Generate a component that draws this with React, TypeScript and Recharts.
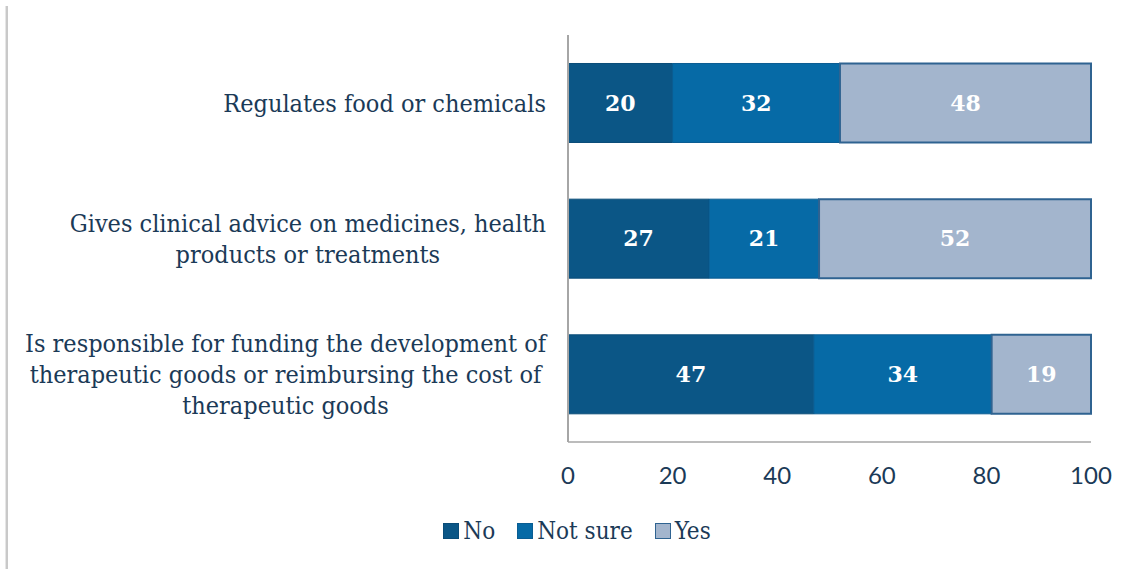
import React from 'react';
import { BarChart, Bar, XAxis, YAxis, Legend, LabelList } from 'recharts';

const categories = [
  'Regulates food or chemicals',
  'Gives clinical advice on medicines, health products or treatments',
  'Is responsible for funding the development of therapeutic goods or reimbursing the cost of therapeutic goods',
];
// how each category label wraps in the original
const categoryLines = [
  ['Regulates food or chemicals'],
  ['Gives clinical advice on medicines, health', 'products or treatments'],
  [
    'Is responsible for funding the development of',
    'therapeutic goods or reimbursing the cost of',
    'therapeutic goods',
  ],
];
const noValues = [20, 27, 47];
const notSureValues = [32, 21, 34];
const yesValues = [48, 52, 19];
const xTicks = [0, 20, 40, 60, 80, 100];
const seriesNames = ['No', 'Not sure', 'Yes'];

const fills = ['#0B5686', '#066AA6', '#A3B5CD'];
const strokes = ['#0A4C78', '#0A5D92', '#2F6391'];
const TEXT = '#1B3A57';
const SERIF = '"DejaVu Serif Condensed", "DejaVu Serif", serif';
const LABEL_FS = 25;
const LEGEND_FS = 24;
const LINE_H = 31;
const LABEL_RIGHT = 546;

const data = categories.map((name, i) => ({
  name,
  no: noValues[i],
  notSure: notSureValues[i],
  yes: yesValues[i],
}));

let ctx: CanvasRenderingContext2D | null = null;
const measure = (s: string) => {
  if (!ctx) ctx = document.createElement('canvas').getContext('2d');
  if (!ctx) return s.length * LABEL_FS * 0.5;
  ctx.font = `condensed ${LABEL_FS}px ${SERIF}`;
  return ctx.measureText(s).width;
};

const CategoryTick = (props: any) => {
  const { y, payload } = props;
  const idx = categories.indexOf(payload.value);
  const lines = categoryLines[idx] || [payload.value];
  const maxW = Math.max(...lines.map(measure));
  const cx = LABEL_RIGHT - maxW / 2;
  const startY = y - ((lines.length - 1) * LINE_H) / 2;
  return (
    <text
      textAnchor="middle"
      fill={TEXT}
      fontFamily={SERIF}
      fontSize={LABEL_FS}
      style={{ fontStretch: 'condensed' }}
    >
      {lines.map((l, i) => (
        <tspan key={i} x={cx} y={startY + i * LINE_H} dy="0.35em">
          {l}
        </tspan>
      ))}
    </text>
  );
};

const renderLegend = () => (
  <div
    style={{
      display: 'flex',
      justifyContent: 'center',
      alignItems: 'center',
      height: 30,
      paddingLeft: 63,
      fontFamily: SERIF,
      fontStretch: 'condensed',
      fontSize: LEGEND_FS,
      color: TEXT,
    }}
  >
    {seriesNames.map((n, i) => (
      <span key={n} style={{ display: 'flex', alignItems: 'center', marginRight: i < 2 ? 22 : 0 }}>
        <span
          style={{
            display: 'inline-block',
            width: 14,
            height: 14,
            background: fills[i],
            border: `1px solid ${strokes[i]}`,
            marginRight: 4,
          }}
        />
        {n}
      </span>
    ))}
  </div>
);

const barLabel = {
  fill: '#ffffff',
  fontFamily: '"DejaVu Serif", serif',
  fontWeight: 'bold',
  fontSize: 22,
};

export default function App() {
  return (
    <div style={{ position: 'absolute', left: 0, top: 0, width: 1137, height: 569, background: '#fff' }}>
      <div style={{ position: 'absolute', left: 5, top: 6, bottom: 0, width: 1, background: '#E6E6E6' }} />
      <div style={{ position: 'absolute', left: 6, top: 6, bottom: 0, width: 2, background: '#C9C9C9' }} />
      <BarChart
        width={1137}
        height={569}
        data={data}
        layout="vertical"
        margin={{ top: 35, right: 46, left: 0, bottom: 23 }}
        barCategoryGap="21%"
      >
        <XAxis
          type="number"
          domain={[0, 100]}
          ticks={xTicks}
          height={74}
          tickLine={false}
          tickMargin={19}
          axisLine={{ stroke: '#A6A6A6', strokeWidth: 1.5 }}
          tick={{ fill: TEXT, fontSize: 24, fontFamily: 'Lato' }}
        />
        <YAxis
          type="category"
          dataKey="name"
          width={568}
          tickLine={false}
          axisLine={{ stroke: '#A6A6A6', strokeWidth: 2 }}
          tick={<CategoryTick />}
          interval={0}
        />
        <Legend verticalAlign="bottom" content={renderLegend} />
        <Bar dataKey="no" name="No" stackId="a" fill={fills[0]} stroke={strokes[0]} strokeWidth={1} isAnimationActive={false}>
          <LabelList dataKey="no" position="center" {...barLabel} />
        </Bar>
        <Bar dataKey="notSure" name="Not sure" stackId="a" fill={fills[1]} stroke={strokes[1]} strokeWidth={1} isAnimationActive={false}>
          <LabelList dataKey="notSure" position="center" {...barLabel} />
        </Bar>
        <Bar dataKey="yes" name="Yes" stackId="a" fill={fills[2]} stroke={strokes[2]} strokeWidth={2} isAnimationActive={false}>
          <LabelList dataKey="yes" position="center" {...barLabel} />
        </Bar>
      </BarChart>
    </div>
  );
}
